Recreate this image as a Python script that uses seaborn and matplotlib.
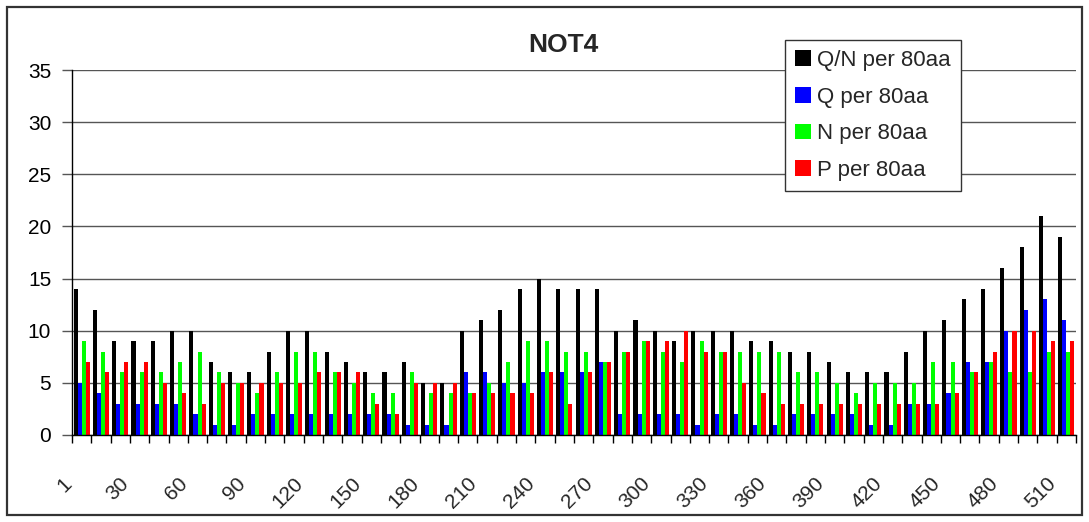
import matplotlib
matplotlib.use("Agg")
import matplotlib.pyplot as plt
from matplotlib.patches import Patch, Rectangle
from matplotlib.transforms import ScaledTranslation
import seaborn as sns
import pandas as pd

# Residue windows along NOT4 (window start positions)
positions = [1] + list(range(10, 520, 10))

# Residue counts per 80 aa window
qn_per_80aa = [14, 12, 9, 9, 9, 10, 10, 7, 6, 6, 8, 10, 10,
               8, 7, 6, 6, 7, 5, 5, 10, 11, 12, 14, 15,
               14, 14, 14, 10, 11, 10, 9, 10, 10, 10, 9, 9, 8,
               8, 7, 6, 6, 6, 8, 10, 11, 13, 14, 16, 18, 21, 19]
q_per_80aa = [5, 4, 3, 3, 3, 3, 2, 1, 1, 2, 2, 2, 2,
              2, 2, 2, 2, 1, 1, 1, 6, 6, 5, 5, 6,
              6, 6, 7, 2, 2, 2, 2, 1, 2, 2, 1, 1, 2,
              2, 2, 2, 1, 1, 3, 3, 4, 7, 7, 10, 12, 13, 11]
n_per_80aa = [9, 8, 6, 6, 6, 7, 8, 6, 5, 4, 6, 8, 8,
              6, 5, 4, 4, 6, 4, 4, 4, 5, 7, 9, 9,
              8, 8, 7, 8, 9, 8, 7, 9, 8, 8, 8, 8, 6,
              6, 5, 4, 5, 5, 5, 7, 7, 6, 7, 6, 6, 8, 8]
p_per_80aa = [7, 6, 7, 7, 5, 4, 3, 5, 5, 5, 5, 5, 6,
              6, 6, 3, 2, 5, 5, 5, 4, 4, 4, 4, 6,
              3, 6, 7, 8, 9, 9, 10, 8, 8, 5, 4, 3, 3,
              3, 3, 3, 3, 3, 3, 3, 4, 6, 8, 10, 10, 9, 9]

series_names = ["Q/N per 80aa", "Q per 80aa", "N per 80aa", "P per 80aa"]
series_colors = ["#000000", "#0000ff", "#00ff00", "#ff0000"]
y_ticks = [0, 5, 10, 15, 20, 25, 30, 35]
label_every = 3

sns.set_theme(style="white")
plt.rcParams["font.family"] = ["Liberation Sans", "DejaVu Sans"]

cat_labels = [str(p) for p in positions]
frames = []
for name, vals in zip(series_names, [qn_per_80aa, q_per_80aa, n_per_80aa, p_per_80aa]):
    frames.append(pd.DataFrame({"pos": cat_labels, "series": name, "value": vals}))
df = pd.concat(frames, ignore_index=True)

W, H = 1089, 522
fig = plt.figure(figsize=(W / 100, H / 100), dpi=100)
ax = fig.add_axes([72 / W, 1 - 435 / H, (1076 - 72) / W, (435 - 70) / H])

sns.barplot(data=df, x="pos", y="value", hue="series", order=cat_labels,
            hue_order=series_names, palette=series_colors, saturation=1,
            width=0.84, errorbar=None, linewidth=0, legend=False, ax=ax)

ax.set_xlim(-0.5, len(positions) - 0.5)
ax.set_ylim(0, 35)
ax.set_yticks(y_ticks)
ax.yaxis.grid(True, color="#555555", linewidth=1)
ax.xaxis.grid(False)
ax.set_axisbelow(True)
ax.set_xlabel("")
ax.set_ylabel("")

for side in ["top", "right"]:
    ax.spines[side].set_visible(False)
for side in ["left", "bottom"]:
    ax.spines[side].set_color("black")
    ax.spines[side].set_linewidth(1)

ax.tick_params(axis="y", which="major", left=True, length=7, width=1,
               color="#555555", pad=8, labelsize=15, labelcolor="black")

# category labels on every third window, tick marks between windows
idx = list(range(0, len(positions), label_every))
ax.set_xticks(idx)
ax.set_xticks([i - 0.5 for i in range(len(positions) + 1)], minor=True)
ax.tick_params(axis="x", which="major", bottom=True, length=0, pad=0)
ax.tick_params(axis="x", which="minor", bottom=True, length=6, width=1,
               color="black")
ax.set_xticklabels([cat_labels[i] for i in idx], rotation=45, ha="right",
                   va="top", rotation_mode="anchor", fontsize=15)
shift = ScaledTranslation(-20 / 100, -39 / 100, fig.dpi_scale_trans)
for lab in ax.get_xticklabels():
    lab.set_transform(lab.get_transform() + shift)

fig.text(563 / W, 1 - 45 / H, "NOT4", ha="center", va="center",
         fontsize=19, fontweight="bold")

handles = [Patch(facecolor=c, edgecolor="none", label=n)
           for n, c in zip(series_names, series_colors)]
leg = fig.legend(handles=handles, loc="upper left",
                 bbox_to_anchor=(785 / W, 1 - 40 / H), bbox_transform=fig.transFigure,
                 borderaxespad=0, fontsize=16, frameon=True, fancybox=False,
                 borderpad=0.45, labelspacing=0.7, handlelength=0.7,
                 handleheight=0.7, handletextpad=0.3)
leg.get_frame().set_edgecolor("#333333")
leg.get_frame().set_linewidth(1)
leg.get_frame().set_facecolor("white")
leg.get_frame().set_alpha(1)

# outer chart border
fig.patches.append(Rectangle((7 / W, 7 / H), (1082 - 7) / W, (515 - 7) / H,
                             transform=fig.transFigure, fill=False,
                             edgecolor="#333333", linewidth=1.6))

fig.savefig("out.png", dpi=100, facecolor="white")
